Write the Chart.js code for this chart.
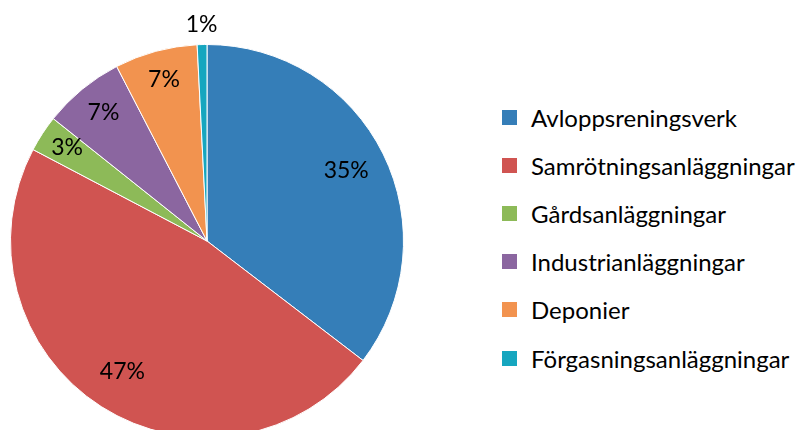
<!DOCTYPE html>
<html>
<head>
<meta charset="utf-8">
<script src="https://cdn.jsdelivr.net/npm/chart.js@4.4.0/dist/chart.umd.min.js"></script>
<style>
  html, body { margin: 0; padding: 0; background: #fff; overflow: hidden; }
  body { width: 806px; height: 430px; position: relative; font-family: Lato, "Open Sans", sans-serif; }
  #pieBox { position: absolute; left: 10px; top: 0; width: 394px; height: 438px; }
  #legend { position: absolute; left: 502px; top: 93px; margin: 0; padding: 0; list-style: none; }
  #legend li { height: 48.2px; display: flex; align-items: center; font-size: 24px; color: #000; white-space: nowrap; }
  #legend .box { width: 15px; height: 15px; margin-right: 14px; flex: none; }
</style>
</head>
<body>
<div id="pieBox"><canvas id="pie"></canvas></div>
<ul id="legend"></ul>
<script>
// kategorier och andelar (%)
const categories = ['Avloppsreningsverk', 'Samrötningsanläggningar', 'Gårdsanläggningar',
                    'Industrianläggningar', 'Deponier', 'Förgasningsanläggningar'];
const shares = [35.4, 47.3, 3.0, 6.7, 6.8, 0.8];
const colors = ['#357EB8', '#D05451', '#8DBA58', '#8B66A0', '#F2934F', '#16A6BF'];
// etikettens avstånd från centrum, andel av radien
const labelDist = [0.79, 0.80, 0.85, 0.83, 0.84, 1.09];

const pctLabels = {
    id: 'pctLabels',
    afterDatasetsDraw(chart) {
        const ctx = chart.ctx;
        const meta = chart.getDatasetMeta(0);
        const data = chart.data.datasets[0].data;
        const total = data.reduce((a, b) => a + b, 0);
        ctx.save();
        ctx.font = '23px Lato, "Open Sans", sans-serif';
        ctx.fillStyle = '#000';
        ctx.textAlign = 'center';
        ctx.textBaseline = 'middle';
        meta.data.forEach((arc, i) => {
            const p = arc.getProps(['x', 'y', 'startAngle', 'endAngle', 'outerRadius'], true);
            const mid = (p.startAngle + p.endAngle) / 2;
            const r = p.outerRadius * labelDist[i];
            ctx.fillText(Math.round(data[i] / total * 100) + '%',
                p.x + Math.cos(mid) * r, p.y + Math.sin(mid) * r - 2);
        });
        ctx.restore();
    }
};

const chart = new Chart(document.getElementById('pie'), {
    type: 'pie',
    data: {
        labels: categories,
        datasets: [{
            data: shares,
            backgroundColor: colors,
            borderColor: '#fff',
            borderWidth: 1,
            hoverOffset: 0
        }]
    },
    options: {
        responsive: true,
        maintainAspectRatio: false,
        animation: false,
        layout: { padding: { top: 44, left: 0, right: 0, bottom: 0 } },
        plugins: {
            legend: { display: false },
            tooltip: { enabled: false }
        }
    },
    plugins: [pctLabels]
});

// förklaring
const legend = document.getElementById('legend');
categories.forEach((name, i) => {
    const li = document.createElement('li');
    li.innerHTML = '<span class="box" style="background:' + colors[i] + '"></span><span>' + name + '</span>';
    legend.appendChild(li);
});
</script>
</body>
</html>
